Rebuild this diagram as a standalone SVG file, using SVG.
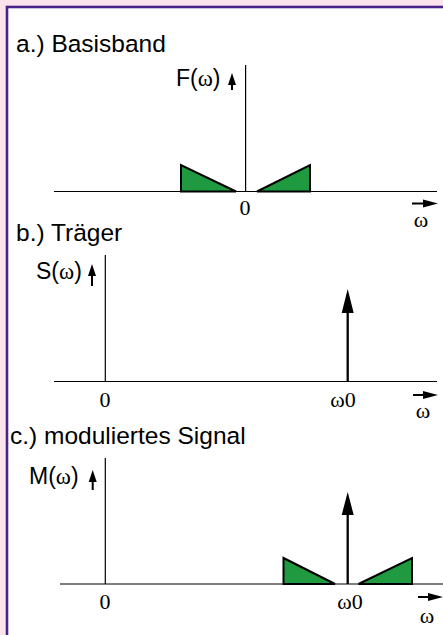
<svg xmlns="http://www.w3.org/2000/svg" width="443" height="635" viewBox="0 0 443 635">
<style>
.bg{fill:#fce4ec}
.frame{fill:#ffffff;stroke:#4a2589;stroke-width:2.6}
.axis{stroke:#000;stroke-width:1.2;fill:none}
.small{stroke:#000;stroke-width:2;fill:none}
.imp{stroke:#000;stroke-width:2.3;fill:none}
.band{fill:#1f9a40;stroke:#000;stroke-width:2;stroke-linejoin:miter}
.head{fill:#000}
.title{font-family:"Liberation Sans",Arial,sans-serif;font-size:24.5px;fill:#000}
.lab{font-family:"Liberation Sans",Arial,sans-serif;font-size:23px;fill:#000}
.sym{font-family:"Liberation Serif","Times New Roman",serif}
.num{font-family:"Liberation Serif","Times New Roman",serif;font-size:22px;fill:#000}
</style>
<rect class="bg" x="0" y="0" width="443" height="635"/>
<rect class="frame" x="7" y="7" width="460" height="650"/>

<g id="panel-a">
  <text class="title" x="16" y="52">a.) Basisband</text>
  <text class="lab" x="176" y="86">F(<tspan class="sym">ω</tspan>)</text>
  <text class="num" x="245" y="215" text-anchor="middle">0</text>
  <text class="num" x="421" y="227" text-anchor="middle">ω</text>
  <polygon id="a-band-left" class="band" points="181,165 181,191.5 236,191.5"/>
  <polygon id="a-band-right" class="band" points="257,191.5 310,191.5 310,165"/>
</g>

<g id="panel-b">
  <text class="title" x="16" y="241">b.) Träger</text>
  <text class="lab" x="36" y="279">S(<tspan class="sym">ω</tspan>)</text>
  <text class="num" x="105" y="407" text-anchor="middle">0</text>
  <text class="num" x="343" y="407" text-anchor="middle">ω0</text>
  <text class="num" x="423" y="418" text-anchor="middle">ω</text>
</g>

<g id="panel-c">
  <text class="title" x="10" y="444">c.) moduliertes Signal</text>
  <text class="lab" x="29" y="484">M(<tspan class="sym">ω</tspan>)</text>
  <text class="num" x="105" y="609" text-anchor="middle">0</text>
  <text class="num" x="350" y="609" text-anchor="middle">ω0</text>
  <text class="num" x="427" y="623" text-anchor="middle">ω</text>
  <polygon id="c-band-left" class="band" points="283.5,558 283.5,584 335,584"/>
  <polygon id="c-band-right" class="band" points="358.5,584 412,584 412,558"/>
</g>

<g id="connectors">
  <!-- panel a -->
  <line class="axis" x1="54" y1="191.5" x2="437" y2="191.5"/>
  <line class="axis" x1="245.6" y1="65" x2="245.6" y2="191.5"/>
  <line class="small" x1="232" y1="90" x2="232" y2="82"/>
  <polygon class="head" points="232,73 236,85 228,85"/>
  <line class="small" x1="412" y1="203.5" x2="425" y2="203.5"/>
  <polygon class="head" points="438,203.5 423,199.5 423,207.5"/>
  <!-- panel b -->
  <line class="axis" x1="54" y1="381.5" x2="437" y2="381.5"/>
  <line class="axis" x1="105.3" y1="255" x2="105.3" y2="381.5"/>
  <line class="small" x1="92" y1="286" x2="92" y2="274"/>
  <polygon class="head" points="92,264 96,276 88,276"/>
  <line class="imp" x1="347.7" y1="381.5" x2="347.7" y2="308"/>
  <polygon class="head" points="347.7,289 353.7,313 341.7,313"/>
  <line class="small" x1="413" y1="395" x2="425" y2="395"/>
  <polygon class="head" points="438,395 423,391 423,399"/>
  <!-- panel c -->
  <line class="axis" x1="60" y1="584" x2="443" y2="584"/>
  <line class="axis" x1="105.3" y1="458" x2="105.3" y2="584"/>
  <line class="small" x1="92.7" y1="490" x2="92.7" y2="480"/>
  <polygon class="head" points="92.7,470 96.7,482 88.7,482"/>
  <line class="imp" x1="347.7" y1="584" x2="347.7" y2="510"/>
  <polygon class="head" points="347.7,492 353.7,515 341.7,515"/>
  <line class="small" x1="418" y1="597" x2="430" y2="597"/>
  <polygon class="head" points="443,597 428,593 428,601"/>
</g>
</svg>
